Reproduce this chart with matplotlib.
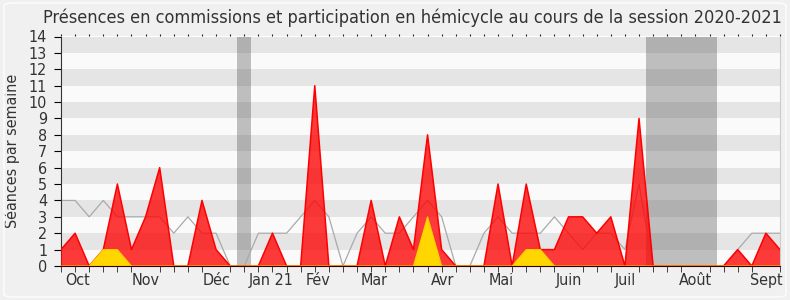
import matplotlib
matplotlib.use("Agg")
import matplotlib.pyplot as plt
from matplotlib.patches import FancyBboxPatch

# weekly data, session 2020-2021 (one point per week)
weeks = list(range(52))
commission = [1, 2, 0, 1, 5, 1, 3, 6, 0, 0, 4, 1, 0, 0,
              0, 2, 0, 0, 11, 0, 0, 0, 4, 0, 3, 1, 8, 1,
              0, 0, 0, 5, 0, 5, 1, 1, 3, 3, 2, 3, 0, 9,
              0, 0, 0, 0, 0, 0, 1, 0, 2, 1]
hemicycle = [0, 0, 0, 1, 1, 0, 0, 0, 0, 0, 0, 0, 0, 0,
             0, 0, 0, 0, 0, 0, 0, 0, 0, 0, 0, 0, 3, 0,
             0, 0, 0, 0, 0, 1, 1, 0, 0, 0, 0, 0, 0, 0,
             0, 0, 0, 0, 0, 0, 0, 0, 0, 0]
median = [4, 4, 3, 4, 3, 3, 3, 3, 2, 3, 2, 2, 0, 0,
          2, 2, 2, 3, 4, 3, 0, 2, 3, 2, 2, 3, 4, 3,
          0, 0, 2, 3, 2, 2, 2, 3, 2, 1, 2, 2, 1, 5,
          0, 0, 0, 0, 0, 0, 1, 2, 2, 2]
# parliamentary breaks (week ranges)
breaks = [(12.5, 13.5), (41.5, 46.5)]
month_pos = [1.15, 6.0, 11.0, 14.9, 18.2, 22.2, 27.1, 31.2, 36.0, 40.0, 45.0, 50.0]
month_labels = ["Oct", "Nov", "Déc", "Jan 21", "Fév", "Mar", "Avr", "Mai",
                "Juin", "Juil", "Août", "Sept"]

plt.rcParams['font.family'] = ['DejaVu Sans']
plt.rcParams['font.stretch'] = 'condensed'

fig = plt.figure(figsize=(7.9, 3.0), dpi=100)
fig.patch.set_facecolor('#f0f0f0')
fig.patches.append(FancyBboxPatch((0.005, 0.01), 0.99, 0.98, boxstyle="round,pad=0,rounding_size=0.01",
                                  transform=fig.transFigure, facecolor='none',
                                  edgecolor='#fbfbfb', lw=1.2))
ax = fig.add_axes([61/790, 1-266/300, 719/790, 229.5/300])
ax.set_facecolor('#fafafa')

# horizontal stripes
for k in range(1, 14, 2):
    ax.axhspan(k, k + 1, color='#e5e5e5', lw=0, zorder=0)
for a, b in breaks:
    ax.axvspan(a, b, color='#464646', alpha=0.33, lw=0, zorder=1)

ax.plot(weeks, median, color='#aaaaaa', lw=0.9, zorder=2)
ax.fill_between(weeks, commission, 0, facecolor='#ff0000', alpha=0.77, lw=0, zorder=3)
ax.plot(weeks, commission, color='#ff0000', lw=1.1, zorder=4)
ax.fill_between(weeks, hemicycle, 0, facecolor='#ffd600', lw=0, zorder=5)
ax.plot(weeks, hemicycle, color='#ffcc00', lw=0.8, zorder=5)

ax.set_xlim(0, 51)
ax.set_ylim(0, 14)
ax.set_yticks(range(0, 15))
ax.set_xticks(weeks, minor=True)
ax.set_xticks(month_pos)
ax.set_xticklabels(month_labels)
ax.tick_params(axis='x', which='major', length=0, labelsize=11.5, labelcolor='#333333', pad=5)
ax.tick_params(axis='x', which='minor', length=4, color='#222222')
ax.tick_params(axis='y', length=5, labelsize=11.5, labelcolor='#333333', pad=5)
ax.spines['top'].set_visible(False)
ax.spines['right'].set_color('#cccccc')
ax.spines['left'].set_color('#333333')
ax.spines['bottom'].set_color('#330000')
ax.spines['bottom'].set_zorder(6)
ax.set_ylabel("Séances par semaine", fontsize=11.5, color='#333333', labelpad=6)

# tiny week marks along the top
top = ax.secondary_xaxis('top')
top.set_xticks(weeks)
top.tick_params(length=1.5, color='#222222', labeltop=False)
top.spines['top'].set_visible(False)

fig.text(412/790, 1-18/300, "Présences en commissions et participation en hémicycle au cours de la session 2020-2021",
         ha='center', va='center', fontsize=13, color='#333333')

fig.savefig("out.png", dpi=100, facecolor=fig.get_facecolor())
